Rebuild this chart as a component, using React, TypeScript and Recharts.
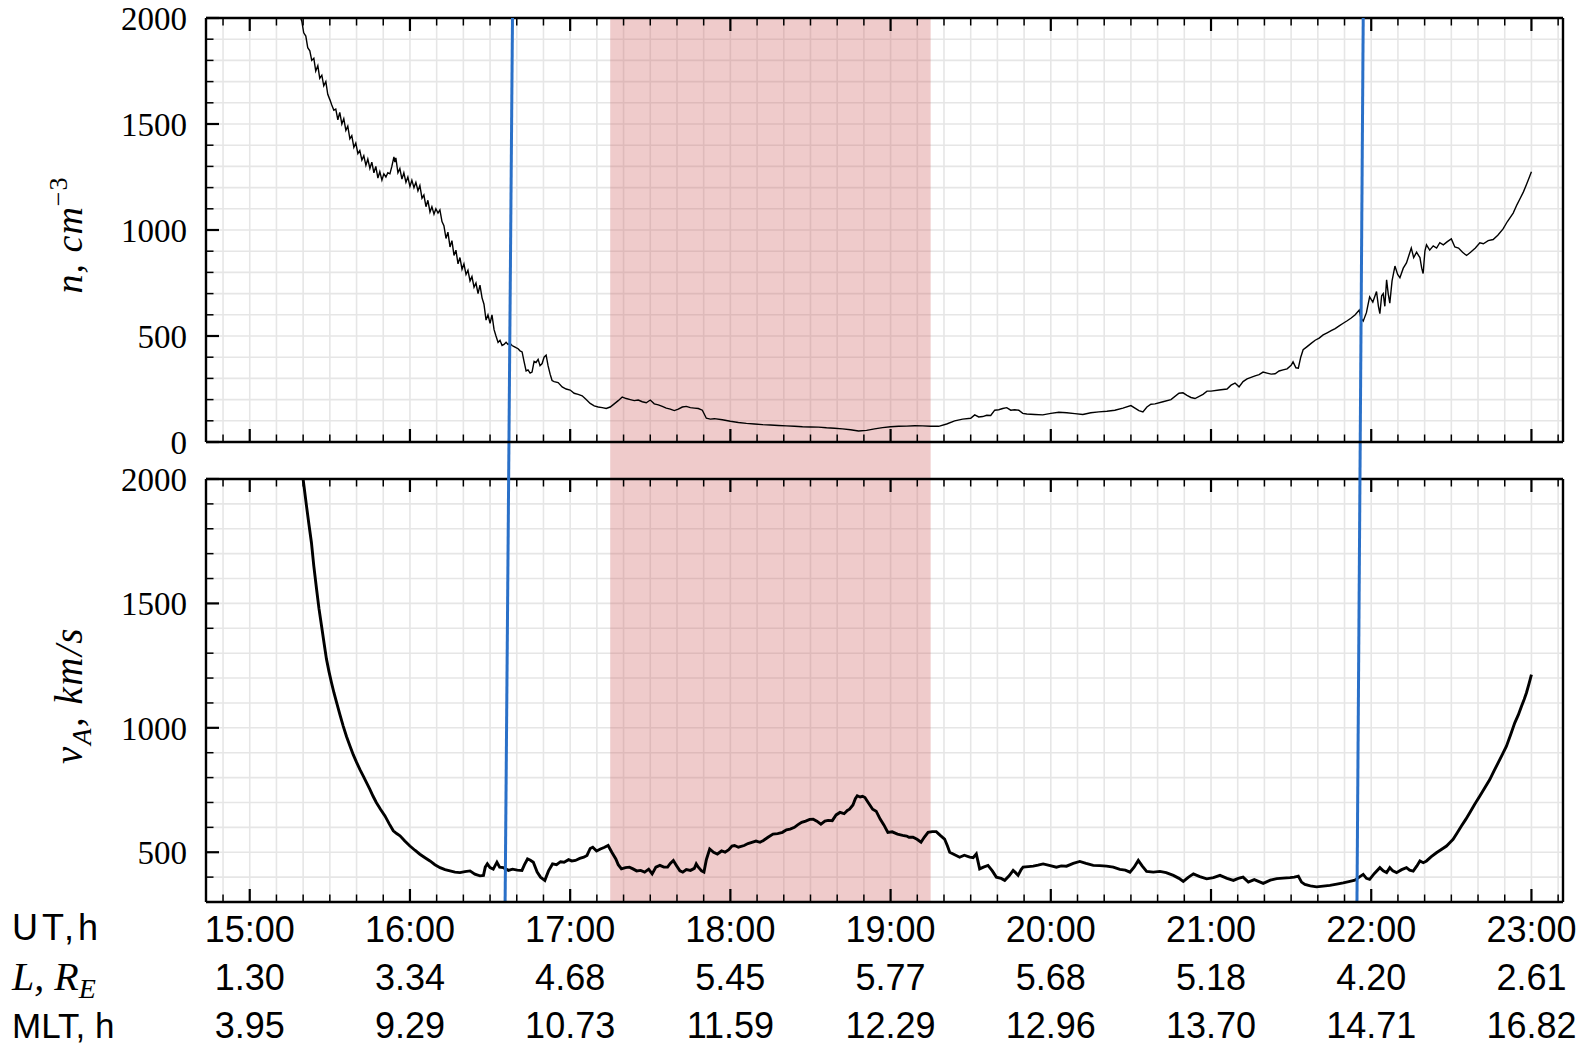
import { LineChart, Line, XAxis, YAxis, CartesianGrid, ReferenceArea, ReferenceLine } from "recharts"

// density n, cm^-3 (upper panel)
const nTime = [
  15.318, 15.325, 15.337, 15.35, 15.362, 15.375, 15.387, 15.4, 15.412, 15.425, 15.437, 15.45, 15.462, 15.475, 15.487,
  15.5, 15.512, 15.525, 15.537, 15.55, 15.562, 15.575, 15.587, 15.6, 15.612, 15.625, 15.637, 15.65, 15.662, 15.675, 15.687,
  15.7, 15.712, 15.725, 15.737, 15.75, 15.762, 15.775, 15.787, 15.8, 15.812, 15.825, 15.837, 15.85, 15.862, 15.875, 15.887,
  15.9, 15.906, 15.912, 15.925, 15.937, 15.95, 15.962, 15.975, 15.987, 16.0, 16.012, 16.025, 16.037, 16.05, 16.062, 16.075,
  16.087, 16.1, 16.112, 16.125, 16.137, 16.15, 16.162, 16.175, 16.187, 16.2, 16.212, 16.225, 16.237, 16.25, 16.262, 16.275,
  16.287, 16.3, 16.312, 16.325, 16.337, 16.35, 16.362, 16.375, 16.387, 16.4, 16.412, 16.425, 16.437, 16.45, 16.462, 16.475,
  16.487, 16.5, 16.512, 16.525, 16.537, 16.55, 16.562, 16.575, 16.587, 16.6, 16.612, 16.625, 16.637, 16.65, 16.662, 16.675,
  16.687, 16.7, 16.712, 16.725, 16.737, 16.75, 16.762, 16.775, 16.787, 16.8, 16.812, 16.825, 16.837, 16.85, 16.862, 16.875,
  16.887, 16.9, 16.925, 16.95, 16.975, 17.0, 17.025, 17.05, 17.075, 17.1, 17.125, 17.15, 17.175, 17.2, 17.225, 17.25,
  17.275, 17.3, 17.325, 17.35, 17.375, 17.4, 17.425, 17.45, 17.475, 17.5, 17.525, 17.55, 17.575, 17.6, 17.625, 17.65,
  17.675, 17.7, 17.725, 17.75, 17.775, 17.8, 17.825, 17.85, 17.875, 17.9, 17.95, 18.0, 18.05, 18.1, 18.15, 18.2,
  18.25, 18.3, 18.35, 18.4, 18.45, 18.5, 18.55, 18.6, 18.65, 18.7, 18.75, 18.8, 18.85, 18.9, 18.95, 19.0,
  19.05, 19.1, 19.15, 19.2, 19.25, 19.3, 19.35, 19.4, 19.45, 19.5, 19.525, 19.55, 19.575, 19.6, 19.625, 19.65,
  19.675, 19.7, 19.725, 19.75, 19.775, 19.8, 19.825, 19.85, 19.9, 19.95, 20.0, 20.05, 20.1, 20.15, 20.2, 20.25,
  20.3, 20.35, 20.4, 20.45, 20.5, 20.55, 20.575, 20.6, 20.625, 20.65, 20.7, 20.75, 20.8, 20.825, 20.85, 20.875,
  20.9, 20.95, 20.975, 21.0, 21.05, 21.1, 21.125, 21.15, 21.175, 21.2, 21.225, 21.25, 21.275, 21.3, 21.325, 21.35,
  21.375, 21.4, 21.425, 21.45, 21.475, 21.5, 21.512, 21.53, 21.545, 21.56, 21.575, 21.6, 21.625, 21.65, 21.675, 21.7,
  21.725, 21.75, 21.775, 21.8, 21.825, 21.85, 21.875, 21.9, 21.925, 21.935, 21.95, 21.97, 21.99, 22.01, 22.033, 22.045,
  22.054, 22.065, 22.075, 22.085, 22.096, 22.106, 22.116, 22.13, 22.148, 22.165, 22.179, 22.2, 22.22, 22.235, 22.25, 22.265,
  22.283, 22.295, 22.304, 22.315, 22.324, 22.335, 22.345, 22.365, 22.387, 22.408, 22.428, 22.45, 22.475, 22.5, 22.522, 22.545,
  22.57, 22.595, 22.62, 22.65, 22.678, 22.7, 22.73, 22.761, 22.79, 22.823, 22.85, 22.886, 22.91, 22.927, 22.95, 22.969,
  22.985, 23.0,
]
const nValues = [
  2000, 1985, 1930, 1915, 1860, 1845, 1800, 1810, 1750, 1775, 1715, 1730, 1680, 1700, 1640,
  1615, 1590, 1565, 1570, 1520, 1555, 1500, 1525, 1470, 1490, 1430, 1445, 1390, 1410, 1360, 1375,
  1330, 1350, 1305, 1335, 1290, 1320, 1270, 1300, 1245, 1275, 1235, 1265, 1250, 1270, 1265, 1300,
  1345, 1320, 1340, 1270, 1290, 1240, 1270, 1225, 1250, 1205, 1235, 1200, 1225, 1185, 1210, 1150,
  1165, 1110, 1140, 1085, 1110, 1075, 1100, 1080, 1095, 1040, 1020, 960, 990, 920, 950, 880,
  905, 840, 870, 815, 840, 790, 810, 760, 780, 730, 750, 700, 740, 680, 650, 575,
  600, 560, 600, 530, 500, 470, 480, 455, 460, 470, 460, 465, 455, 450, 445, 440,
  430, 425, 380, 335, 340, 325, 330, 380, 375, 390, 360, 370, 400, 410, 360, 320,
  290, 285, 280, 260, 250, 245, 230, 225, 218, 200, 182, 170, 165, 162, 158, 165,
  180, 195, 212, 205, 200, 195, 198, 190, 185, 198, 180, 175, 168, 160, 155, 148,
  155, 165, 168, 162, 160, 158, 150, 112, 108, 110, 105, 98, 92, 88, 85, 82,
  80, 78, 76, 74, 72, 71, 70, 67, 65, 62, 58, 52, 55, 62, 68, 72,
  74, 75, 77, 76, 74, 74, 85, 100, 108, 112, 128, 118, 120, 126, 125, 150,
  152, 158, 162, 150, 152, 150, 135, 132, 130, 128, 135, 140, 138, 134, 130, 138,
  142, 145, 150, 160, 172, 148, 142, 165, 178, 180, 190, 200, 230, 232, 220, 210,
  205, 225, 240, 240, 245, 250, 268, 278, 260, 285, 298, 305, 312, 318, 330, 325,
  320, 322, 335, 340, 345, 362, 378, 350, 348, 400, 435, 450, 465, 480, 490, 505,
  515, 525, 535, 548, 560, 572, 585, 600, 622, 585, 570, 610, 685, 660, 710, 640,
  605, 690, 700, 640, 765, 700, 655, 760, 830, 790, 775, 820, 845, 880, 915, 870,
  895, 880, 870, 820, 795, 900, 930, 905, 925, 915, 940, 930, 945, 958, 920, 915,
  895, 880, 895, 915, 940, 935, 950, 955, 975, 1005, 1040, 1080, 1120, 1145, 1180, 1215,
  1245, 1275,
]

// Alfven speed v_A, km/s (lower panel)
const vTime = [
  15.333, 15.354, 15.37, 15.385, 15.4, 15.417, 15.432, 15.448, 15.464, 15.479, 15.495, 15.51, 15.526, 15.542, 15.562,
  15.583, 15.604, 15.625, 15.646, 15.667, 15.688, 15.708, 15.729, 15.75, 15.77, 15.79, 15.817, 15.844, 15.87, 15.896, 15.917,
  15.938, 15.968, 16.0, 16.031, 16.062, 16.094, 16.125, 16.156, 16.188, 16.219, 16.25, 16.281, 16.312, 16.343, 16.375, 16.405,
  16.437, 16.459, 16.47, 16.483, 16.5, 16.52, 16.543, 16.56, 16.583, 16.615, 16.64, 16.67, 16.699, 16.715, 16.734, 16.752,
  16.77, 16.794, 16.815, 16.842, 16.865, 16.89, 16.915, 16.94, 16.962, 16.99, 17.01, 17.033, 17.06, 17.085, 17.105, 17.125,
  17.141, 17.165, 17.189, 17.215, 17.237, 17.26, 17.285, 17.3, 17.32, 17.345, 17.37, 17.392, 17.415, 17.44, 17.465, 17.49,
  17.512, 17.535, 17.56, 17.585, 17.608, 17.625, 17.644, 17.665, 17.685, 17.703, 17.725, 17.751, 17.775, 17.787, 17.8, 17.82,
  17.835, 17.85, 17.871, 17.895, 17.919, 17.945, 17.967, 17.99, 18.01, 18.026, 18.05, 18.086, 18.11, 18.134, 18.16, 18.185,
  18.206, 18.235, 18.266, 18.295, 18.325, 18.35, 18.373, 18.4, 18.42, 18.445, 18.47, 18.495, 18.517, 18.54, 18.565, 18.59,
  18.61, 18.636, 18.66, 18.684, 18.71, 18.73, 18.744, 18.765, 18.78, 18.792, 18.81, 18.825, 18.84, 18.86, 18.888, 18.91,
  18.935, 18.958, 18.983, 19.01, 19.043, 19.075, 19.1, 19.115, 19.14, 19.165, 19.19, 19.21, 19.234, 19.26, 19.285, 19.31,
  19.337, 19.355, 19.369, 19.4, 19.431, 19.46, 19.494, 19.515, 19.535, 19.556, 19.58, 19.608, 19.635, 19.66, 19.69, 19.7125,
  19.74, 19.765, 19.78, 19.796, 19.815, 19.827, 19.86, 19.89, 19.92, 19.952, 19.99, 20.035, 20.065, 20.098, 20.14, 20.181,
  20.22, 20.265, 20.305, 20.348, 20.39, 20.431, 20.465, 20.494, 20.52, 20.546, 20.57, 20.598, 20.64, 20.681, 20.72, 20.765,
  20.8, 20.827, 20.86, 20.89, 20.93, 20.973, 21.015, 21.056, 21.1, 21.14, 21.17, 21.2, 21.233, 21.27, 21.3, 21.326,
  21.37, 21.41, 21.45, 21.493, 21.52, 21.545, 21.565, 21.586, 21.62, 21.659, 21.7, 21.742, 21.785, 21.825, 21.86, 21.898,
  21.925, 21.95, 21.97, 21.99, 22.02, 22.054, 22.075, 22.096, 22.116, 22.135, 22.158, 22.19, 22.22, 22.24, 22.262, 22.285,
  22.304, 22.325, 22.345, 22.375, 22.407, 22.44, 22.47, 22.49, 22.511, 22.537, 22.563, 22.59, 22.615, 22.645, 22.678, 22.71,
  22.74, 22.765, 22.792, 22.818, 22.844, 22.87, 22.896, 22.918, 22.938, 22.955, 22.969, 22.985, 23.0,
]
const vValues = [
  2000, 1893, 1815, 1745, 1650, 1558, 1480, 1410, 1340, 1276, 1225, 1182, 1140, 1102, 1055,
  1008, 965, 928, 892, 861, 832, 807, 780, 753, 725, 700, 672, 646, 615, 586, 575,
  566, 545, 525, 508, 492, 478, 465, 450, 438, 430, 425, 420, 418, 422, 425, 412,
  405, 407, 440, 453, 438, 432, 460, 440, 438, 427, 432, 428, 427, 450, 473, 468,
  460, 420, 400, 387, 425, 453, 450, 462, 460, 470, 465, 467, 475, 480, 487, 515,
  520, 505, 513, 520, 527, 500, 473, 450, 433, 438, 440, 433, 425, 427, 420, 432,
  413, 440, 447, 440, 440, 455, 467, 445, 425, 420, 430, 427, 435, 453, 440, 425,
  420, 470, 513, 500, 493, 505, 500, 510, 525, 527, 520, 527, 535, 540, 545, 540,
  547, 560, 573, 575, 580, 590, 593, 600, 610, 620, 625, 632, 633, 625, 613, 625,
  628, 627, 650, 660, 655, 668, 673, 690, 715, 727, 722, 725, 720, 700, 673, 665,
  633, 610, 580, 582, 573, 568, 565, 560, 560, 552, 540, 560, 580, 583, 583, 568,
  553, 525, 500, 490, 480, 488, 480, 478, 493, 433, 440, 447, 425, 400, 395, 387,
  405, 427, 418, 407, 430, 440, 442, 444, 448, 453, 447, 440, 445, 444, 455, 463,
  455, 447, 446, 444, 440, 431, 428, 420, 440, 467, 445, 423, 420, 423, 418, 407,
  395, 383, 400, 413, 402, 393, 398, 407, 395, 387, 395, 400, 380, 390, 382, 375,
  388, 394, 396, 398, 400, 404, 380, 371, 365, 361, 364, 367, 372, 377, 382, 388,
  400, 411, 395, 391, 415, 438, 425, 418, 438, 425, 418, 430, 438, 428, 424, 445,
  465, 458, 465, 482, 498, 512, 525, 538, 552, 578, 605, 632, 659, 692, 726, 760,
  792, 825, 859, 892, 926, 972, 1020, 1052, 1087, 1115, 1141, 1178, 1214,
]

// table under the time axis
const utLabels = ["15:00", "16:00", "17:00", "18:00", "19:00", "20:00", "21:00", "22:00", "23:00"]
const lValues = ["1.30", "3.34", "4.68", "5.45", "5.77", "5.68", "5.18", "4.20", "2.61"]
const mltValues = ["3.95", "9.29", "10.73", "11.59", "12.29", "12.96", "13.70", "14.71", "16.82"]

// shaded interval (UT hours) and the two slanted markers (UT at figure top / bottom)
const shadeStart = 17.25
const shadeEnd = 19.25
const markerTop = [16.64, 21.95]
const markerBottom = [16.594, 21.911]

const X_DOMAIN: [number, number] = [14.727, 23.197]
const N_DOMAIN: [number, number] = [0, 2000]
const V_DOMAIN: [number, number] = [300, 2000]

const W = 1582
const H = 1047
const PLOT_LEFT = 206
const PLOT_RIGHT = 1563
const TOP_Y = 18
const TOP_H = 424
const GAP = 37
const BOT_H = 423
const SPAN = TOP_H + GAP + BOT_H
const AX = 1 // thickness reserved by each axis
const MAJOR_LEN = 13
const MINOR_LEN = 7.5

const SERIF = "'Liberation Serif', 'DejaVu Serif', serif"
const SANS = "'Liberation Sans', Arial, sans-serif"
const BLUE = "#2a70c8"
const GRID = "#e6e6e6"

const minorTicks: number[] = []
for (let k = 89; k <= 139; k++) minorTicks.push(k / 6)
const isHour = (v: number) => Math.abs(v - Math.round(v)) < 1e-6

const nTicks: number[] = []
for (let v = 0; v <= 2000; v += 100) nTicks.push(v)
const vTicks: number[] = []
for (let v = 300; v <= 2000; v += 100) vTicks.push(v)

const nData = nTime.map((t, i) => ({ t, n: nValues[i] }))
const vData = vTime.map((t, i) => ({ t, v: vValues[i] }))

// time of a slanted marker at a given depth (px from top panel top)
const markerAt = (i: number, depth: number) => markerTop[i] + (markerBottom[i] - markerTop[i]) * (depth / SPAN)

function XTickUp(props: any) {
  const { x, y, payload } = props
  const major = isHour(payload.value)
  return <line x1={x} x2={x} y1={y} y2={y - (major ? MAJOR_LEN : MINOR_LEN)} stroke="#000" strokeWidth={major ? 2.2 : 1.5} />
}

function XTickTable(props: any) {
  const { x, y, payload } = props
  const major = isHour(payload.value)
  const idx = Math.round(payload.value) - 15
  return (
    <g>
      <line x1={x} x2={x} y1={y} y2={y - (major ? MAJOR_LEN : MINOR_LEN)} stroke="#000" strokeWidth={major ? 2.2 : 1.5} />
      {major && idx >= 0 && idx < utLabels.length && (
        <g fontFamily={SANS} fontSize={36} fill="#000" textAnchor="middle">
          <text x={x} y={y + 40}>{utLabels[idx]}</text>
          <text x={x} y={y + 88}>{lValues[idx]}</text>
          <text x={x} y={y + 136}>{mltValues[idx]}</text>
        </g>
      )}
    </g>
  )
}

function YTick(props: any) {
  const { x, y, payload } = props
  const major = payload.value % 500 === 0
  return (
    <g>
      <line x1={x} x2={x + (major ? MAJOR_LEN : MINOR_LEN)} y1={y} y2={y} stroke="#000" strokeWidth={major ? 2.2 : 1.5} />
      {major && (
        <text x={x - 19} y={y + 12} textAnchor="end" fontFamily={SERIF} fontSize={33} fill="#000">
          {payload.value}
        </text>
      )}
    </g>
  )
}

const frame = { stroke: "#000", strokeWidth: 2.4 }

function Panel({ data, dataKey, domain, ticks, top, height, plotTop, plotH, bottomTick, lineWidth, shadeTop, markers, title }: any) {
  const perPx = (domain[1] - domain[0]) / plotH
  return (
    <div style={{ position: "absolute", left: 0, top }}>
      <LineChart width={W} height={height} data={data}
        margin={{ top: plotTop, right: W - PLOT_RIGHT - AX, bottom: height - plotTop - plotH - AX, left: PLOT_LEFT - AX }}>
        <CartesianGrid stroke={GRID} strokeWidth={1.6} />
        <XAxis dataKey="t" type="number" domain={X_DOMAIN} allowDataOverflow ticks={minorTicks} interval={0}
          height={AX} tickSize={0} tickMargin={0} tickLine={false} axisLine={frame} tick={bottomTick} />
        <YAxis type="number" domain={domain} ticks={ticks} interval={0} width={AX}
          tickSize={0} tickMargin={0} tickLine={false} axisLine={frame} tick={<YTick />}
          label={{
            content: (p: any) => {
              const vb = p.viewBox
              return title(vb.x + vb.width - 124, vb.y + vb.height / 2 + 5)
            },
          }} />
        <YAxis yAxisId="r" orientation="right" domain={domain} width={AX} tick={false} tickLine={false} axisLine={frame} />
        <Line dataKey={dataKey} stroke="#000" strokeWidth={lineWidth} dot={false} activeDot={false} isAnimationActive={false} />
        <ReferenceArea x1={shadeStart} x2={shadeEnd} y1={domain[0]} y2={shadeTop} ifOverflow="visible"
          fill="#cd5c5c" fillOpacity={0.32} stroke="none" />
        {/* top frame with inward ticks */}
        <ReferenceLine y={domain[1]} stroke="#000" strokeWidth={2.4} ifOverflow="visible" />
        {minorTicks.map((t) => (
          <ReferenceLine key={`tt${t}`} ifOverflow="visible" stroke="#000" strokeWidth={isHour(t) ? 2.2 : 1.5}
            segment={[{ x: t, y: domain[1] }, { x: t, y: domain[1] - (isHour(t) ? MAJOR_LEN : MINOR_LEN) * perPx }]} />
        ))}
        {markers.map((s: any, i: number) => (
          <ReferenceLine key={i} ifOverflow="visible" stroke={BLUE} strokeWidth={3} segment={s} />
        ))}
      </LineChart>
    </div>
  )
}

export default function App() {
  const gapV = (GAP * (V_DOMAIN[1] - V_DOMAIN[0])) / BOT_H
  const topH = TOP_Y + TOP_H + 28
  const botTop = TOP_Y + TOP_H
  const topMarkers = markerTop.map((t, i) => [{ x: t, y: N_DOMAIN[1] }, { x: markerAt(i, TOP_H), y: N_DOMAIN[0] }])
  const botMarkers = markerTop.map((_t, i) => [
    { x: markerAt(i, TOP_H), y: V_DOMAIN[1] + gapV },
    { x: markerBottom[i], y: V_DOMAIN[0] },
  ])
  return (
    <div style={{ position: "absolute", left: 0, top: 0, width: W, height: H, background: "#fff" }}>
      <Panel data={vData} dataKey="v" domain={V_DOMAIN} ticks={vTicks} top={botTop} height={H - botTop} plotTop={GAP} plotH={BOT_H}
        bottomTick={<XTickTable />} lineWidth={2.9} shadeTop={V_DOMAIN[1] + gapV} markers={botMarkers}
        title={(cx: number, cy: number) => (
          <text transform={`translate(${cx},${cy}) rotate(-90)`} textAnchor="middle" fontFamily={SERIF}
            fontSize={39} fontStyle="italic" fill="#000" letterSpacing={1.5}>
            v<tspan dy={9} fontSize={27}>A</tspan><tspan dy={-9}>, km/s</tspan>
          </text>
        )} />
      <Panel data={nData} dataKey="n" domain={N_DOMAIN} ticks={nTicks} top={0} height={topH} plotTop={TOP_Y} plotH={TOP_H}
        bottomTick={<XTickUp />} lineWidth={1.4} shadeTop={N_DOMAIN[1]} markers={topMarkers}
        title={(cx: number, cy: number) => (
          <text transform={`translate(${cx},${cy}) rotate(-90)`} textAnchor="middle" fontFamily={SERIF}
            fontSize={38} fontStyle="italic" fill="#000" letterSpacing={1}>
            n, cm<tspan dy={-15} fontSize={26} fontStyle="normal">−3</tspan>
          </text>
        )} />
      <svg width={W} height={H} style={{ position: "absolute", left: 0, top: 0, pointerEvents: "none" }}>
        <text x={12} y={940} fontFamily={SANS} fontSize={36} fill="#000" letterSpacing={4}>UT,h</text>
        <text x={12} y={990} fontFamily={SERIF} fontSize={40} fontStyle="italic" fill="#000">
          L, R<tspan dy={8} fontSize={28}>E</tspan>
        </text>
        <text x={12} y={1038} fontFamily={SANS} fontSize={35} fill="#000">MLT, h</text>
      </svg>
    </div>
  )
}
